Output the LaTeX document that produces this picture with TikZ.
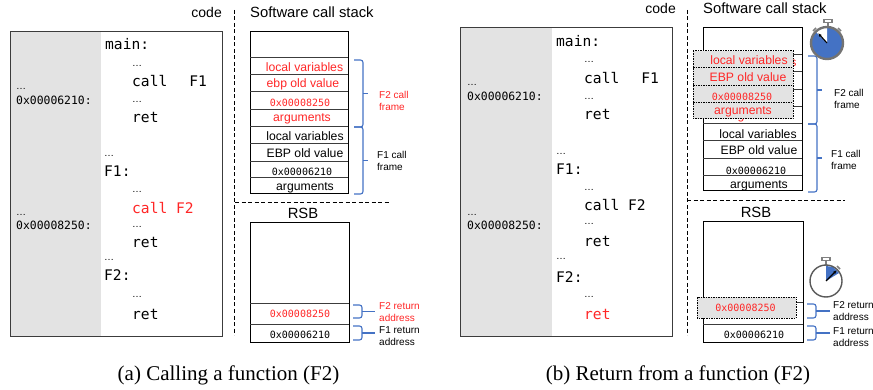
\documentclass[tikz,border=0pt]{standalone}
\usepackage{fontspec}
\usetikzlibrary{arrows.meta}
\setmainfont{Liberation Sans}
\newfontfamily\codefont{DejaVu Sans Mono}
\newfontfamily\capfont{Liberation Serif}
\definecolor{panelgray}{RGB}{227,227,227}
\definecolor{bracecol}{RGB}{68,114,196}
\definecolor{redtxt}{RGB}{255,38,38}
\definecolor{linegray}{RGB}{60,60,60}
\tikzset{
  lbl/.style={inner sep=0pt,font=\fontsize{#1}{#1}\selectfont},
  code/.style={inner sep=0pt,anchor=mid west,yshift=-3pt,font=\fontsize{14.6}{14.6}\codefont},
  addr/.style={inner sep=0pt,anchor=mid west,yshift=-2pt,font=\fontsize{11.4}{11.4}\codefont},
  mono/.style={inner sep=0pt,yshift=-1pt,font=\fontsize{10}{10}\codefont},
  dots/.style={inner sep=0pt,anchor=base west,yshift=-2pt,font=\fontsize{10}{10}\selectfont},
  cell/.style={inner sep=0pt,yshift=-1pt,font=\fontsize{12.2}{12.2}\selectfont},
  small/.style={inner sep=0pt,anchor=mid west,align=left,font=\fontsize{10}{12.5}\selectfont},
  box/.style={draw=black,line width=1pt},
  sep/.style={draw=linegray,line width=1pt},
  brace/.style={draw=bracecol,line width=1.1pt,rounded corners=2.5pt},
  divider/.style={line width=0.8pt,dash pattern=on 4pt off 2.5pt},
  fine dots/.style={draw=black,line width=1pt,dash pattern=on 1.5pt off 1pt},
  capt/.style={inner sep=0pt,font=\fontsize{21}{21}\capfont},
}
\newcommand{\bracemark}[4]{% x, top y, bottom y, tip x
  \coordinate (bt) at (#1,#2);
  \coordinate (bb) at (#1,#3);
  \draw[brace] (bt) -- ++(9,0) -- ++(0,{(#3-#2)}) -- (bb);
  \draw[brace] (#1+9,{(#2+#3)/2}) -- (#4,{(#2+#3)/2});
}
\begin{document}
\begin{tikzpicture}[x=1pt,y=-1pt]
\useasboundingbox (0,0) rectangle (873,390);
% ===== panel (a) =====
\node[lbl=14,anchor=mid east] (codeA) at (222,15) {code};
\fill[panelgray] (10,32) rectangle (101,336);
\draw[draw=linegray,line width=1pt] (10,32) rectangle (222,336);
\node[dots] (a1) at (16,88) {…};
\node[addr] (a2) at (16,100) {0x00006210:};
\node[dots] (a3) at (16,214) {…};
\node[addr] (a4) at (16,225) {0x00008250:};
\node[code] (c1) at (105,44) {main:};
\node[dots] (c2) at (132,65) {…};
\node[code] (c3) at (132,81) {call\hspace{22pt}F1};
\node[dots] (c4) at (132,101) {…};
\node[code] (c5) at (132,117) {ret};
\node[dots] (c6) at (104,155) {…};
\node[code] (c7) at (104,171) {F1:};
\node[dots] (c8) at (132,191) {…};
\node[code,text=redtxt] (c9) at (132,208) {call F2};
\node[dots] (c10) at (132,226) {…};
\node[code] (c11) at (132,242) {ret};
\node[dots] (c12) at (104,259) {…};
\node[code] (c13) at (104,275) {F2:};
\node[dots] (c14) at (132,295) {…};
\node[code] (c15) at (132,314) {ret};
\draw[divider] (234.5,10) -- (234.5,335);
\draw[divider] (235,202) -- (389,202);
\node[lbl=14.8,anchor=mid west] (stA) at (250,15) {Software call stack};
\draw[box] (250,32) rectangle (348,194);
\foreach \y in {58,75,92,109.5,127,144,161.5,178} \draw[sep] (250,\y) -- (348,\y);
\node[cell,text=redtxt] (s1) at (304.5,66) {local variables};
\node[cell,text=redtxt] (s2) at (303,83.5) {ebp old value};
\node[mono,text=redtxt] (s3) at (300,102) {0x00008250};
\node[cell,text=redtxt] (s4) at (302,118) {arguments};
\node[cell] (s5) at (305,135.5) {local variables};
\node[cell] (s6) at (305,152.5) {EBP old value};
\node[mono] (s7) at (302,171) {0x00006210};
\node[cell] (s8) at (305,187) {arguments};
\bracemark{354}{60}{127}{368}
\bracemark{354}{127}{194}{368}
\node[small,text=redtxt] (fa2) at (379,108) {F2 call\\frame};
\node[small] (fa1) at (377,168) {F1 call\\frame};
\node[lbl=14.8] (rA) at (303,213) {RSB};
\draw[box] (250,223) rectangle (349,342);
\draw[sep] (250,303) -- (349,303);
\draw[sep] (250,324) -- (349,324);
\node[mono,text=redtxt] (r1) at (300,313) {0x00008250};
\node[mono] (r2) at (300,334) {0x00006210};
\bracemark{353}{305}{318}{375}
\bracemark{353}{326}{340}{375}
\node[small,text=redtxt] (ra2) at (379,319) {F2 return\\address};
\node[small] (ra1) at (379,343) {F1 return\\address};
\node[capt] (capA) at (228.5,375) {(a) Calling a function (F2)};
% ===== panel (b) =====
\node[lbl=14,anchor=mid east] (codeB) at (676,11) {code};
\fill[panelgray] (460,28) rectangle (552,336);
\draw[draw=linegray,line width=1pt] (460,28) rectangle (672,336);
\node[dots] (b1) at (467,84) {…};
\node[addr] (b2) at (467,96) {0x00006210:};
\node[dots] (b3) at (467,214) {…};
\node[addr] (b4) at (467,225) {0x00008250:};
\node[code] (d1) at (556,41) {main:};
\node[dots] (d2) at (584,61) {…};
\node[code] (d3) at (584,78) {call\hspace{22pt}F1};
\node[dots] (d4) at (584,98) {…};
\node[code] (d5) at (584,114) {ret};
\node[dots] (d6) at (556,153) {…};
\node[code] (d7) at (556,169) {F1:};
\node[dots] (d8) at (584,189) {…};
\node[code] (d9) at (584,205) {call F2};
\node[dots] (d10) at (584,223) {…};
\node[code] (d11) at (584,241) {ret};
\node[dots] (d12) at (556,258) {…};
\node[code] (d13) at (556,277) {F2:};
\node[dots] (d14) at (584,295) {…};
\node[code,text=redtxt] (d15) at (584,314) {ret};
\draw[divider] (687,10) -- (687,335);
\draw[divider] (687,200) -- (845,200);
\node[lbl=14.8,anchor=mid west] (stB) at (703,11) {Software call stack};
\draw[box] (703,28) rectangle (802,191);
\foreach \y in {54.5,72,89.5,107,124,141,159,176} \draw[sep] (703,\y) -- (802,\y);
\node[cell,text=redtxt] (hs) at (793.5,62) {s};
\node[cell,text=redtxt] (hg) at (741,116) {g};
\fill[panelgray] (693,51) rectangle (793,119);
\draw[fine dots] (693,51) rectangle (793,119);
\draw[fine dots] (693,67.5) -- (793,67.5);
\draw[fine dots] (693,85.5) -- (793,85.5);
\draw[fine dots] (693,103) -- (793,103);
\node[cell,text=redtxt] (t1) at (749,59) {local variables};
\node[cell,text=redtxt] (t2) at (748,76) {EBP old value};
\node[mono,text=redtxt] (t3) at (742,96) {0x00008250};
\node[cell,text=redtxt] (t4) at (743,110.5) {arguments};
\node[cell] (t5) at (758,133) {local variables};
\node[cell] (t6) at (759,149) {EBP old value};
\node[mono] (t7) at (756,170) {0x00006210};
\node[cell] (t8) at (759,185) {arguments};
\bracemark{808}{56}{124}{822}
\bracemark{808}{124}{192}{822}
\node[small] (fb2) at (834,106) {F2 call\\frame};
\node[small] (fb1) at (831,167) {F1 call\\frame};
\node[lbl=14.8] (rB) at (756,212) {RSB};
\draw[box] (703,222) rectangle (803,342);
\draw[sep] (793,302.5) -- (803,302.5);
\draw[sep] (703,324) -- (803,324);
\fill[panelgray] (697,297) rectangle (796,318);
\draw[fine dots] (697,297) rectangle (796,318);
\node[mono,text=redtxt] (u1) at (745.5,307) {0x00008250};
\node[mono] (u2) at (754,334) {0x00006210};
\bracemark{807}{304}{318}{830}
\bracemark{807}{326}{340}{830}
\node[small] (rb2) at (833,318) {F2 return\\address};
\node[small] (rb1) at (833,344) {F1 return\\address};
\node[capt] (capB) at (678,375) {(b) Return from a function (F2)};
% ===== stopwatches =====
\coordinate (w1) at (827,43);
\draw[gray,line width=1.3pt] (824,19.5) rectangle (832,22.5);
\draw[gray,line width=1.5pt] (828,22) -- (828,27);
\draw[gray,line width=1.5pt] (838,28) -- (841,31);
\draw[gray,line width=1.5pt] (816,28) -- (813,31);
\fill[bracecol] (w1) circle (15.5);
\fill[white] (w1) -- (827,28) -- (820,28.5) -- (816.4,32.4) -- cycle;
\draw[black!55,line width=2.4pt] (w1) circle (16);
\coordinate (w1h) at (818,33);
\draw[black,line width=1.1pt,-{Latex[length=4pt]}] (w1) -- (w1h);
\coordinate (w2) at (826,281);
\draw[gray,line width=1.3pt] (822,257.5) rectangle (830,260.5);
\draw[gray,line width=1.5pt] (826,260) -- (826,265);
\draw[gray,line width=1.5pt] (837,266) -- (840,269);
\fill[bracecol] (w2) -- (826,266) -- (833,267) -- (839,273) -- cycle;
\draw[black!65,line width=1.4pt] (w2) circle (16);
\coordinate (w2h) at (837,270);
\draw[black,line width=1.1pt,-{Latex[length=4pt]}] (w2) -- (w2h);
\end{tikzpicture}
\end{document}
